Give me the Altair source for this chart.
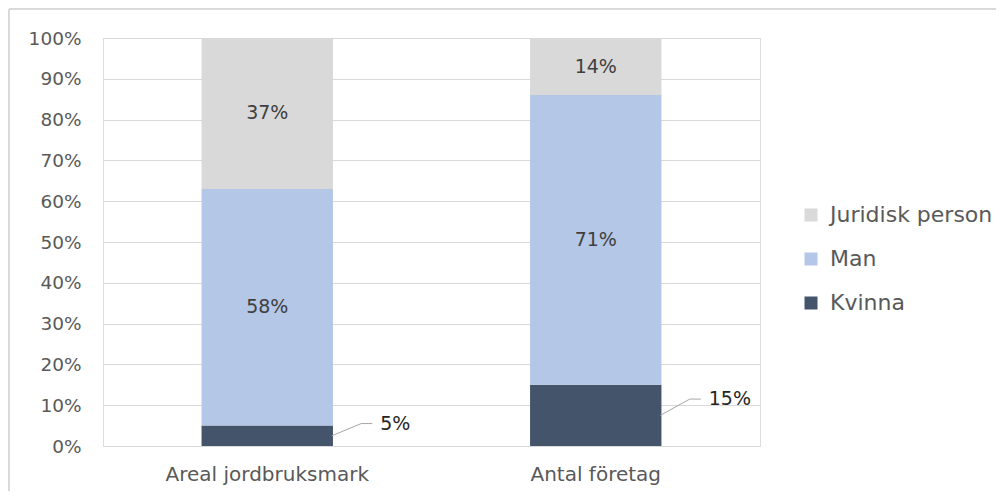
import altair as alt
import pandas as pd

categories = ["Areal jordbruksmark", "Antal företag"]
series = ["Kvinna", "Man", "Juridisk person"]
kvinna = [5, 15]
man = [58, 71]
juridisk = [37, 14]
legend_order = ["Juridisk person", "Man", "Kvinna"]
legend_colors = ["#D9D9D9", "#B4C7E7", "#44546A"]
y_ticks = list(range(0, 101, 10))

FONT = "DejaVu Sans"

rows = []
for i, cat in enumerate(categories):
    bottom = 0
    for s, vals in zip(series, [kvinna, man, juridisk]):
        v = vals[i]
        rows.append({"cat": cat, "series": s, "value": v,
                     "y0": bottom, "y1": bottom + v, "mid": bottom + v / 2,
                     "label": f"{v}%"})
        bottom += v
df = pd.DataFrame(rows)

kv = df[df.series == "Kvinna"].copy()
kv["lead_end"] = kv["value"] * 0.6 + 2.5
inner = df[df.series != "Kvinna"]

W, H = 657, 408

xscale = alt.Scale(domain=categories, paddingInner=0.6, paddingOuter=0.3)
yscale = alt.Scale(domain=[0, 100])

x_enc = alt.X("cat:N", scale=xscale, sort=categories,
              axis=alt.Axis(title=None, labelAngle=0, ticks=False, domain=False,
                            labelPadding=18, labelFontSize=20, labelColor="#595959",
                            labelFont=FONT, labelLimit=0))

bars = alt.Chart(df).mark_bar().encode(
    x=x_enc,
    y=alt.Y("y0:Q", scale=yscale,
            axis=alt.Axis(title=None, values=y_ticks, labelExpr="datum.value + '%'",
                          ticks=False, domain=False, grid=True, gridColor="#D9D9D9",
                          gridWidth=1, labelPadding=22, labelFontSize=18.5,
                          labelColor="#595959", labelFont=FONT, labelLimit=0)),
    y2="y1:Q",
    color=alt.Color("series:N",
                    scale=alt.Scale(domain=legend_order, range=legend_colors),
                    legend=alt.Legend(title=None, orient="none", legendX=697, legendY=166,
                                      symbolType="square", symbolSize=169,
                                      symbolStrokeWidth=0, labelFontSize=22,
                                      labelColor="#595959", labelFont=FONT,
                                      labelLimit=0, rowPadding=22, labelOffset=8)),
)

inner_text = alt.Chart(inner).mark_text(fontSize=19, color="#404040", font=FONT).encode(
    x=alt.X("cat:N", scale=xscale, sort=categories),
    y=alt.Y("mid:Q", scale=yscale),
    text="label:N",
)

diag = alt.Chart(kv).mark_rule(color="#A6A6A6", strokeWidth=1, xOffset=64.5, x2Offset=94).encode(
    x=alt.X("cat:N", scale=xscale, sort=categories),
    x2="cat:N",
    y=alt.Y("mid:Q", scale=yscale),
    y2="lead_end:Q",
)

horiz = alt.Chart(kv).mark_rule(color="#A6A6A6", strokeWidth=1, xOffset=94, x2Offset=105).encode(
    x=alt.X("cat:N", scale=xscale, sort=categories),
    x2="cat:N",
    y=alt.Y("lead_end:Q", scale=yscale),
)

outer_text = alt.Chart(kv).mark_text(fontSize=19, color="#262626", font=FONT,
                                     align="left", dx=113).encode(
    x=alt.X("cat:N", scale=xscale, sort=categories),
    y=alt.Y("lead_end:Q", scale=yscale),
    text="label:N",
)

border_top = alt.Chart(df).mark_rule(color="#D9D9D9", strokeWidth=1).encode(
    x=alt.value(-94), x2=alt.value(1000), y=alt.value(-29))
border_left = alt.Chart(df).mark_rule(color="#D9D9D9", strokeWidth=1).encode(
    x=alt.value(-94), y=alt.value(-29), y2=alt.value(600))

chart = alt.layer(bars, inner_text, diag, horiz, outer_text, border_top, border_left).properties(
    width=W, height=H,
    autosize=alt.AutoSizeParams(type="none"),
    padding={"left": 95, "top": 30, "right": 236, "bottom": 45},
).configure_view(stroke=None).configure(font=FONT)

chart.save("out.html", embed_options={"renderer": "svg", "actions": False})
